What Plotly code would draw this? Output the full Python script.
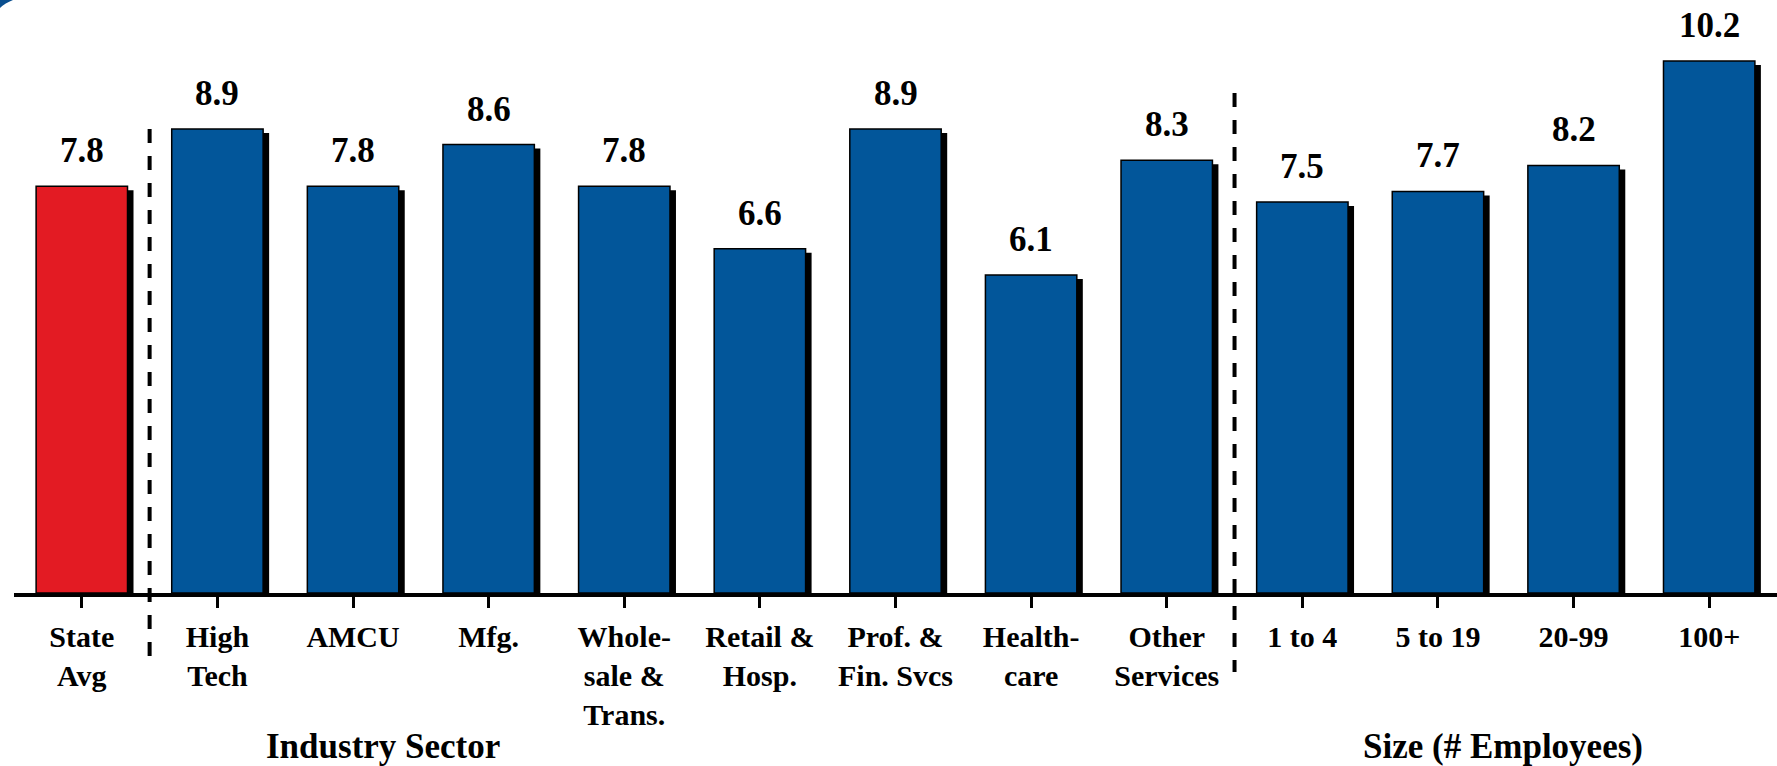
import plotly.graph_objects as go

# ---- data ----
categories = ["State<br>Avg", "High<br>Tech", "AMCU", "Mfg.", "Whole-<br>sale &<br>Trans.",
              "Retail &<br>Hosp.", "Prof. &<br>Fin. Svcs", "Health-<br>care", "Other<br>Services",
              "1 to 4", "5 to 19", "20-99", "100+"]
values = [7.8, 8.9, 7.8, 8.6, 7.8, 6.6, 8.9, 6.1, 8.3, 7.5, 7.7, 8.2, 10.2]
value_labels = ["7.8", "8.9", "7.8", "8.6", "7.8", "6.6", "8.9", "6.1", "8.3", "7.5", "7.7", "8.2", "10.2"]
bar_colors = ["#E31B23"] + ["#02569A"] * 12
group_titles = ["Industry Sector", "Size (# Employees)"]
group_title_x = [2.22, 10.48]
separators_x = [0.5, 8.5]

# ---- geometry / style ----
W, H = 1777, 766
ML, MR, MT, MB = 14, 0, 10, 173
PW, PH = W - ML - MR, H - MT - MB
YMAX = 11.18
px_per_unit = PH / YMAX
px_per_cat = PW / len(categories)
BAR_W = 0.674
SH_DX = 6 / px_per_cat
SH_DY = 4 / px_per_unit
FONT = '"Liberation Serif", "Times New Roman", Times, serif'


def py(p):  # pixel y (from top) -> paper y
    return (H - MB - p) / PH


def pxp(p):  # pixel x -> paper x
    return (p - ML) / PW


xs = list(range(len(categories)))

fig = go.Figure()
# shadow
fig.add_trace(go.Bar(
    x=xs, y=[v - SH_DY for v in values], width=BAR_W, offset=-BAR_W / 2 + SH_DX,
    marker=dict(color="black", line=dict(width=0)), hoverinfo="skip", showlegend=False))
# bars
fig.add_trace(go.Bar(
    x=xs, y=values, width=BAR_W, offset=-BAR_W / 2,
    marker=dict(color=bar_colors, line=dict(color="black", width=1.5)), showlegend=False))

annotations = []
for xi, v, lab in zip(xs, values, value_labels):
    annotations.append(dict(x=xi, y=v, xref="x", yref="y", text=f"<b>{lab}</b>", showarrow=False,
                            yanchor="bottom", yshift=14,
                            font=dict(family=FONT, size=35, color="black")))
for gx, gt in zip(group_title_x, group_titles):
    annotations.append(dict(x=gx, y=py(746), xref="x", yref="paper", text=f"<b>{gt}</b>", showarrow=False,
                            yanchor="middle",
                            font=dict(family=FONT, size=35, color="black")))

shapes = []
sep_tops = [129, 93]
sep_bottoms = [660, 672]
for sx, top, bot in zip(separators_x, sep_tops, sep_bottoms):
    shapes.append(dict(type="line", xref="x", yref="paper", x0=sx, x1=sx,
                       y0=py(top), y1=py(bot),
                       line=dict(color="black", width=4, dash="14px,13px")))
# small logo fragment in the corner
shapes.append(dict(type="path", xref="paper", yref="paper",
                   path=f"M {pxp(0)},{py(0)} L {pxp(13)},{py(0)} Q {pxp(5)},{py(3)} {pxp(0)},{py(8)} Z",
                   fillcolor="#0A4F8F", line=dict(width=0)))

fig.update_layout(
    width=W, height=H,
    margin=dict(l=ML, r=MR, t=MT, b=MB),
    paper_bgcolor="white", plot_bgcolor="white",
    barmode="overlay",
    annotations=annotations,
    shapes=shapes,
    xaxis=dict(range=[-0.5, len(categories) - 0.5], tickmode="array", tickvals=xs,
               ticktext=[f"<b>{c}</b>" for c in categories], ticks="outside", ticklen=11,
               tickwidth=3, tickcolor="black",
               tickson="boundaries", showline=True, linewidth=4, linecolor="black",
               showgrid=False, zeroline=False, ticklabelstandoff=3,
               tickfont=dict(family=FONT, size=30, color="black")),
    yaxis=dict(range=[0, YMAX], visible=False, showgrid=False, zeroline=False),
)

fig.write_html("out.html", config={"displayModeBar": False},
               post_script="document.body.style.margin='0';document.body.style.overflow='hidden';")
